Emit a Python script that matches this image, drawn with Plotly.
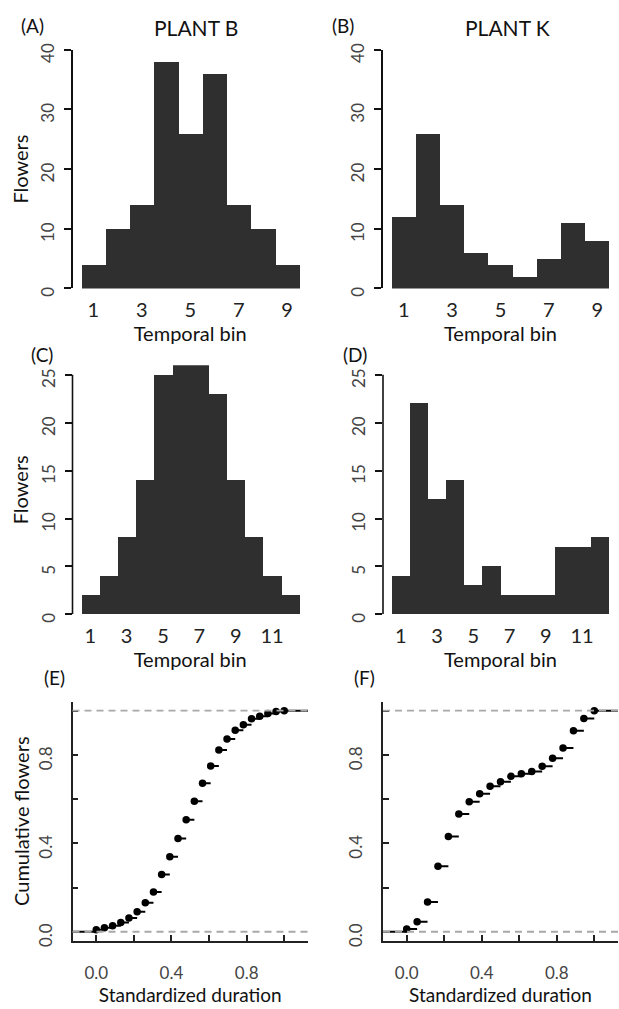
import plotly.graph_objects as go

W, H = 619, 1009

# ---------------- data ----------------
bins_9 = [1, 2, 3, 4, 5, 6, 7, 8, 9]
bins_12 = [1, 2, 3, 4, 5, 6, 7, 8, 9, 10, 11, 12]
plantB_9 = [4, 10, 14, 38, 26, 36, 14, 10, 4]
plantK_9 = [12, 26, 14, 6, 4, 2, 5, 11, 8]
plantB_12 = [2, 4, 8, 14, 25, 26, 26, 23, 14, 8, 4, 2]
plantK_12 = [4, 22, 12, 14, 3, 5, 2, 2, 2, 7, 7, 8]

ecdfB_x = [i / 23 for i in range(24)]
ecdfB_y = [0.009, 0.018, 0.027, 0.042, 0.062, 0.091, 0.131, 0.180, 0.259, 0.339,
           0.422, 0.507, 0.590, 0.672, 0.750, 0.822, 0.872, 0.911, 0.936, 0.963,
           0.975, 0.987, 0.996, 1.0]
ecdfK_x = [i / 18 for i in range(19)]
ecdfK_y = [0.012, 0.045, 0.135, 0.296, 0.431, 0.533, 0.588, 0.624, 0.658, 0.679,
           0.703, 0.715, 0.725, 0.749, 0.785, 0.831, 0.909, 0.964, 1.0]

hist_ticks_9 = [1, 3, 5, 7, 9]
hist_ticks_12 = [1, 3, 5, 7, 9, 11]
ecdf_ticks = [0, 0.2, 0.4, 0.6, 0.8, 1.0]
ecdf_ticktext = ["0.0", "", "0.4", "", "0.8", ""]

# ---------------- layout helpers ----------------
FONT = "Lato, 'Open Sans', sans-serif"
BAR = "#2f2f2f"

def xd(a, b):
    return [a / W, b / W]

def yd(top, bot):
    return [1 - bot / H, 1 - top / H]

LEFT = xd(72.5, 308)
RIGHT = xd(383, 618)
ROW1 = yd(43.3, 285.7)      # y range 0..40
ROW2 = yd(363.6, 616.5)     # y range 0..26 (axis line drawn to 25)
ROW3 = yd(705.3, 947.7)

fig = go.Figure()

def add_hist(xs, ys, ax):
    fig.add_trace(go.Bar(x=xs, y=ys, marker=dict(color=BAR, line=dict(width=0)),
                         width=1.0, xaxis="x" + ax, yaxis="y" + ax, showlegend=False))

def add_ecdf(xs, ys, ax, xmin=-0.3, xmax=1.3):
    sx, sy = [xmin, xs[0], None], [0, 0, None]
    for i in range(len(xs)):
        nxt = xs[i + 1] if i + 1 < len(xs) else xmax
        sx += [xs[i], nxt, None]
        sy += [ys[i], ys[i], None]
    fig.add_trace(go.Scatter(x=sx, y=sy, mode="lines", line=dict(color="black", width=2),
                             xaxis="x" + ax, yaxis="y" + ax, showlegend=False, hoverinfo="skip"))
    fig.add_trace(go.Scatter(x=xs, y=ys, mode="markers", marker=dict(color="black", size=7.5),
                             xaxis="x" + ax, yaxis="y" + ax, showlegend=False))

add_hist(bins_9, plantB_9, "")
add_hist(bins_9, plantK_9, "2")
add_hist(bins_12, plantB_12, "3")
add_hist(bins_12, plantK_12, "4")
add_ecdf(ecdfB_x, ecdfB_y, "5")
add_ecdf(ecdfK_x, ecdfK_y, "6")

def hist_x(domain, rng, ticks, anchor, title):
    return dict(domain=domain, range=rng, anchor=anchor, showgrid=False, zeroline=False,
                showline=False, tickmode="array", tickvals=ticks, ticks="outside",
                ticklen=4, tickcolor="rgba(0,0,0,0)",
                tickfont=dict(family=FONT, size=20, color="#222"),
                title=dict(text=title, font=dict(family=FONT, size=20, color="#111"), standoff=0))

def hist_y(domain, rng, dtick, top, anchor, title, line):
    return dict(domain=domain, range=rng, anchor=anchor, showgrid=False, zeroline=False,
                showline=line, linecolor="#111", linewidth=1.6, tickmode="linear", tick0=0,
                dtick=dtick, ticks="outside", ticklen=7, tickwidth=1.6, tickcolor="#111",
                tickangle=-90, ticklabelshift=6, ticklabelstandoff=3,
                tickfont=dict(family=FONT, size=17, color="#444"),
                title=dict(text=title, font=dict(family=FONT, size=20, color="#111"), standoff=3))

def ecdf_x(domain, anchor, title):
    return dict(domain=domain, range=[-0.1264, 1.1264], anchor=anchor, showgrid=False,
                zeroline=False, showline=True, linecolor="#222", linewidth=1.6,
                tickmode="array", tickvals=ecdf_ticks, ticktext=ecdf_ticktext,
                ticks="inside", ticklen=6, tickwidth=1.6, tickcolor="#222",
                ticklabelstandoff=16,
                tickfont=dict(family=FONT, size=17, color="#444"),
                title=dict(text=title, font=dict(family=FONT, size=19, color="#111"), standoff=0))

def ecdf_y(domain, anchor, title):
    return dict(domain=domain, range=[-0.04, 1.04], anchor=anchor, showgrid=False,
                zeroline=False, showline=True, linecolor="#222", linewidth=1.6,
                tickmode="array", tickvals=ecdf_ticks, ticktext=ecdf_ticktext,
                ticks="inside", ticklen=6, tickwidth=1.6, tickcolor="#222",
                ticklabelstandoff=12, tickangle=-90, ticklabelshift=6,
                tickfont=dict(family=FONT, size=17, color="#444"),
                title=dict(text=title, font=dict(family=FONT, size=20, color="#111"), standoff=0))

fig.update_layout(
    width=W, height=H, margin=dict(l=0, r=0, t=0, b=0),
    paper_bgcolor="white", plot_bgcolor="white", bargap=0,
    font=dict(family=FONT, color="#111"),
    xaxis=hist_x(LEFT, [0.14, 9.86], hist_ticks_9, "y", "Temporal bin"),
    yaxis=hist_y(ROW1, [0, 40], 10, 40, "x", "Flowers", True),
    xaxis2=hist_x(RIGHT, [0.14, 9.86], hist_ticks_9, "y2", "Temporal bin"),
    yaxis2=hist_y(ROW1, [0, 40], 10, 40, "x2", "", True),
    xaxis3=hist_x(LEFT, [0.02, 12.98], hist_ticks_12, "y3", "Temporal bin"),
    yaxis3=hist_y(ROW2, [0, 26], 5, 25, "x3", "Flowers", False),
    xaxis4=hist_x(RIGHT, [0.02, 12.98], hist_ticks_12, "y4", "Temporal bin"),
    yaxis4=hist_y(ROW2, [0, 26], 5, 25, "x4", "", False),
    xaxis5=ecdf_x(LEFT, "y5", "Standardized duration"),
    yaxis5=ecdf_y(ROW3, "x5", "Cumulative flowers"),
    xaxis6=ecdf_x(RIGHT, "y6", "Standardized duration"),
    yaxis6=ecdf_y(ROW3, "x6", ""),
)

# R-style y-axis lines that stop at the last tick (rows with 0..25 axes)
for ax in ("3", "4"):
    fig.add_shape(type="line", xref="x" + ax + " domain", yref="y" + ax,
                  x0=0, x1=0, y0=0, y1=25, line=dict(color="#111", width=1.6))

# dashed reference lines at 0 and 1 (drawn over the step lines)
for ax in ("5", "6"):
    for yv in (0, 1):
        fig.add_shape(type="line", xref="x" + ax + " domain", yref="y" + ax,
                      x0=0, x1=1, y0=yv, y1=yv, layer="above",
                      line=dict(color="#a8a8a8", width=1.8, dash="7px,5px"))

def label(text, x, y, size=19):
    fig.add_annotation(text=text, x=x / W, y=1 - y / H, xref="paper", yref="paper",
                       showarrow=False, xanchor="center", yanchor="middle",
                       font=dict(family=FONT, size=size, color="#111"))

label("PLANT B", 196, 21, 21)
label("PLANT K", 507, 21, 21)
label("(A)", 32, 19)
label("(B)", 343, 19)
label("(C)", 42, 353)
label("(D)", 355, 353)
label("(E)", 54, 681)
label("(F)", 364, 681)

fig.write_html("out.html")
